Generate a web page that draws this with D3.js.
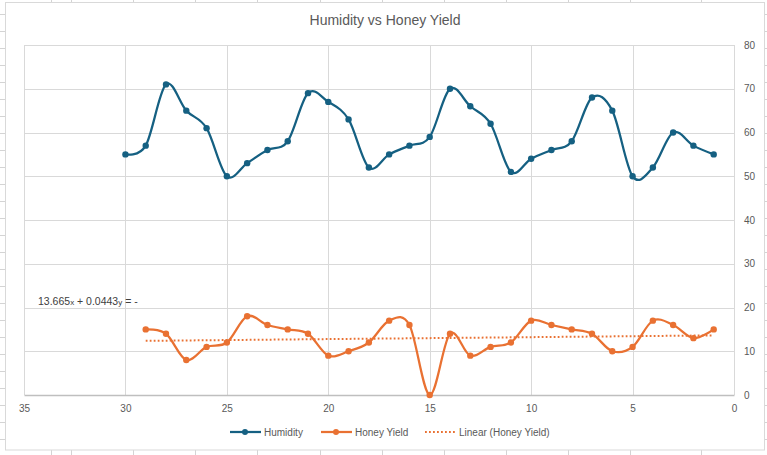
<!DOCTYPE html>
<html>
<head>
<meta charset="utf-8">
<script src="https://cdn.jsdelivr.net/npm/d3@7"></script>
<style>
  body { margin: 0; background: #ffffff; }
  text { font-family: "Liberation Sans", Arial, sans-serif; }
</style>
</head>
<body>
<div id="plot"></div>
<script>
// data (x axis runs 35 -> 0, right to left)
const humidityX = d3.range(30, 0, -1);
const humidity = [55, 57, 71, 65, 61, 50, 53, 56, 58, 69, 67, 63, 52, 55, 57,
                  59, 70, 66, 62, 51, 54, 56, 58, 68, 65, 50, 52, 60, 57, 55];
const honeyX = d3.range(29, 0, -1);
const honeyYield = [15, 14, 8, 11, 12, 18, 16, 15, 14, 9, 10, 12, 17, 16, 0,
                    14, 9, 11, 12, 17, 16, 15, 14, 10, 11, 17, 16, 13, 15];
const xTicks = [35, 30, 25, 20, 15, 10, 5, 0];
const yTicks = [0, 10, 20, 30, 40, 50, 60, 70, 80];
const seriesNames = ["Humidity", "Honey Yield", "Linear (Honey Yield)"];
const chartTitle = "Humidity vs Honey Yield";

const w = 767;
const h = 455;
const margin = {top: 45, right: 33, bottom: 60, left: 24};
const innerWidth = w - margin.left - margin.right;
const innerHeight = h - margin.top - margin.bottom;

const blue = "#156082";
const orange = "#E97132";
const labelColor = "#595959";
const gridColor = "#d9d9d9";

const svg = d3.select("div#plot")
    .append("svg")
    .attr("width", w)
    .attr("height", h);

// spreadsheet cells peeking out behind the chart
const sheet = svg.append("g").attr("stroke", "#d4d4d4").attr("stroke-width", 1);
const colLines = [51.5, 71.5, 133.5, 195.5, 257.5, 320.5, 382.5, 444.5, 506.5, 568.5, 630.5, 701.5];
const rowLines = d3.range(14.5, h, 17);
sheet.selectAll("line.col")
    .data(colLines)
  .enter().append("line")
    .attr("x1", d => d).attr("x2", d => d)
    .attr("y1", 0).attr("y2", h);
sheet.selectAll("line.row")
    .data(rowLines)
  .enter().append("line")
    .attr("x1", 0).attr("x2", w)
    .attr("y1", d => d).attr("y2", d => d);

// chart area
svg.append("rect")
    .attr("x", 5.5)
    .attr("y", 2.5)
    .attr("width", 759)
    .attr("height", 447.5)
    .attr("fill", "#ffffff")
    .attr("stroke", gridColor);

svg.append("text")
    .attr("x", 385)
    .attr("y", 25)
    .attr("text-anchor", "middle")
    .attr("font-size", 14)
    .attr("fill", labelColor)
    .text(chartTitle);

const xScale = d3.scaleLinear()
    .domain([35, 0])
    .range([0, innerWidth]);

const yScale = d3.scaleLinear()
    .domain([0, 80])
    .range([innerHeight, 0]);

const g = svg.append("g")
    .attr("transform", `translate(${margin.left}, ${margin.top})`);

// gridlines
g.append("g")
    .selectAll("line")
    .data(yTicks.filter(d => d > 0))
  .enter().append("line")
    .attr("x1", 0).attr("x2", innerWidth)
    .attr("y1", d => Math.round(yScale(d)) + 0.5)
    .attr("y2", d => Math.round(yScale(d)) + 0.5)
    .attr("stroke", gridColor);

g.append("g")
    .selectAll("line")
    .data(xTicks)
  .enter().append("line")
    .attr("x1", d => Math.round(xScale(d)) + 0.5)
    .attr("x2", d => Math.round(xScale(d)) + 0.5)
    .attr("y1", 0).attr("y2", innerHeight)
    .attr("stroke", gridColor);

// x axis (bottom), labels only
const xAxis = d3.axisBottom(xScale)
    .tickValues(xTicks)
    .tickSize(0)
    .tickPadding(10);

const xg = g.append("g")
    .attr("transform", `translate(0, ${innerHeight})`)
    .call(xAxis);
xg.select(".domain").attr("stroke", "#bfbfbf").attr("stroke-width", 1.3);
xg.selectAll("text").attr("font-size", 10).attr("fill", labelColor)
    .attr("font-family", "Liberation Sans, Arial, sans-serif");

// y axis on the right
const yAxis = d3.axisRight(yScale)
    .tickValues(yTicks)
    .tickSize(0)
    .tickPadding(10);

const yg = g.append("g")
    .attr("transform", `translate(${innerWidth}, 0)`)
    .call(yAxis);
yg.select(".domain").remove();
yg.selectAll("text").attr("font-size", 10).attr("fill", labelColor)
    .attr("font-family", "Liberation Sans, Arial, sans-serif");

// smoothed lines like Excel
const line = d3.line()
    .x(d => xScale(d[0]))
    .y(d => yScale(d[1]))
    .curve(d3.curveCardinal.tension(0));

const humData = humidityX.map((x, i) => [x, humidity[i]]);
const honeyData = honeyX.map((x, i) => [x, honeyYield[i]]);

// linear trendline of honey yield
const mx = d3.mean(honeyX);
const my = d3.mean(honeyYield);
const slope = d3.sum(honeyX, (x, i) => (x - mx) * (honeyYield[i] - my)) /
              d3.sum(honeyX, x => (x - mx) * (x - mx));
const intercept = my - slope * mx;
const trendX = d3.extent(honeyX);

g.append("line")
    .attr("x1", xScale(trendX[1]))
    .attr("y1", yScale(intercept + slope * trendX[1]))
    .attr("x2", xScale(trendX[0]))
    .attr("y2", yScale(intercept + slope * trendX[0]))
    .attr("stroke", orange)
    .attr("stroke-width", 2)
    .attr("stroke-dasharray", "1.8,2.2");

g.append("path")
    .datum(humData)
    .attr("d", line)
    .attr("fill", "none")
    .attr("stroke", blue)
    .attr("stroke-width", 2.25);

g.append("g")
    .selectAll("circle")
    .data(humData)
  .enter().append("circle")
    .attr("cx", d => xScale(d[0]))
    .attr("cy", d => yScale(d[1]))
    .attr("r", 3.2)
    .attr("fill", blue);

g.append("path")
    .datum(honeyData)
    .attr("d", line)
    .attr("fill", "none")
    .attr("stroke", orange)
    .attr("stroke-width", 2.25);

g.append("g")
    .selectAll("circle")
    .data(honeyData)
  .enter().append("circle")
    .attr("cx", d => xScale(d[0]))
    .attr("cy", d => yScale(d[1]))
    .attr("r", 3.2)
    .attr("fill", orange);

// trendline equation, as Excel shows it (right-to-left garbled)
const eq = svg.append("text")
    .attr("x", 38)
    .attr("y", 305)
    .attr("font-size", 10.5)
    .attr("fill", "#404040");
eq.append("tspan").text("13.665");
eq.append("tspan").attr("font-size", 8).text("x");
eq.append("tspan").text(" + 0.0443");
eq.append("tspan").attr("font-size", 8).text("y");
eq.append("tspan").text(" = -");

// legend, absolute positions
const legendY = 432;
const legendItems = [
  {x: 230, color: blue, marker: true, dash: null},
  {x: 321, color: orange, marker: true, dash: null},
  {x: 425, color: orange, marker: false, dash: "1.8,2.2"}
];

legendItems.forEach((d, i) => {
  svg.append("line")
      .attr("x1", d.x).attr("x2", d.x + 31)
      .attr("y1", legendY).attr("y2", legendY)
      .attr("stroke", d.color)
      .attr("stroke-width", d.dash ? 2 : 2.25)
      .attr("stroke-dasharray", d.dash);
  if (d.marker) {
    svg.append("circle")
        .attr("cx", d.x + 15).attr("cy", legendY)
        .attr("r", 3)
        .attr("fill", d.color);
  }
  svg.append("text")
      .attr("x", d.x + 34)
      .attr("y", legendY + 3.5)
      .attr("font-size", 10)
      .attr("fill", labelColor)
      .text(seriesNames[i]);
});
</script>
</body>
</html>
